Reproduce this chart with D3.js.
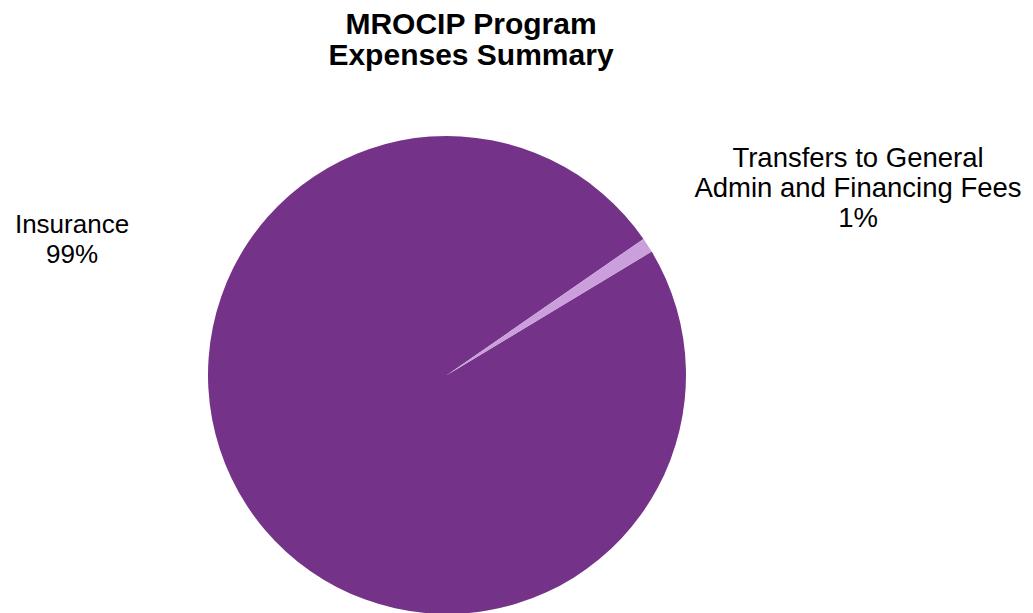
<!DOCTYPE html>
<html>
<head>
<meta charset="utf-8">
<script src="https://cdn.jsdelivr.net/npm/d3@7"></script>
<style>
  html, body { margin: 0; padding: 0; background: #ffffff; }
  svg { display: block; }
  text { font-family: "Liberation Sans", Arial, sans-serif; fill: #000; }
</style>
</head>
<body>
<svg id="chart" width="1033" height="613"></svg>
<script>
// Program expense categories and their shares (%)
const categories = ["Insurance", "Transfers to General Admin and Financing Fees"];
const shares = [99, 1];
const sliceColors = ["#743388", "#CA9FDB"];
const titleLines = ["MROCIP Program", "Expenses Summary"];

const svg = d3.select("#chart");
const cx = 447, cy = 375, radius = 239;

// Title
const title = svg.append("text")
  .attr("x", 471)
  .attr("y", 34)
  .attr("text-anchor", "middle")
  .style("font-weight", "bold")
  .style("font-size", "30px");
titleLines.forEach((line, i) => {
  title.append("tspan").attr("x", 471).attr("dy", i === 0 ? 0 : 31).text(line);
});

// Pie: first slice begins just clockwise of the small wedge
const firstAngle = 58.9 * Math.PI / 180;
const pie = d3.pie()
  .sort(null)
  .value(d => d.value)
  .startAngle(firstAngle)
  .endAngle(firstAngle + 2 * Math.PI);
const arc = d3.arc().innerRadius(0).outerRadius(radius);

const data = categories.map((c, i) => ({ name: c, value: shares[i] }));
const color = d3.scaleOrdinal().domain(categories).range(sliceColors);

const g = svg.append("g").attr("transform", `translate(${cx},${cy})`);
g.selectAll("path")
  .data(pie(data))
  .join("path")
  .attr("d", arc)
  .attr("fill", d => color(d.data.name));

// Data labels outside the pie
const total = d3.sum(shares);
const fmt = v => Math.round(v / total * 100) + "%";
const labelSpecs = [
  { lines: ["Insurance", fmt(shares[0])], x: 72, y: 233, size: 26, step: 30 },
  { lines: ["Transfers to General", "Admin and Financing Fees", fmt(shares[1])], x: 858, y: 167, size: 27.5, step: 30 }
];
labelSpecs.forEach(spec => {
  const t = svg.append("text")
    .attr("x", spec.x)
    .attr("y", spec.y)
    .attr("text-anchor", "middle")
    .style("font-size", spec.size + "px");
  spec.lines.forEach((line, i) => {
    t.append("tspan").attr("x", spec.x).attr("dy", i === 0 ? 0 : spec.step).text(line);
  });
});
</script>
</body>
</html>
